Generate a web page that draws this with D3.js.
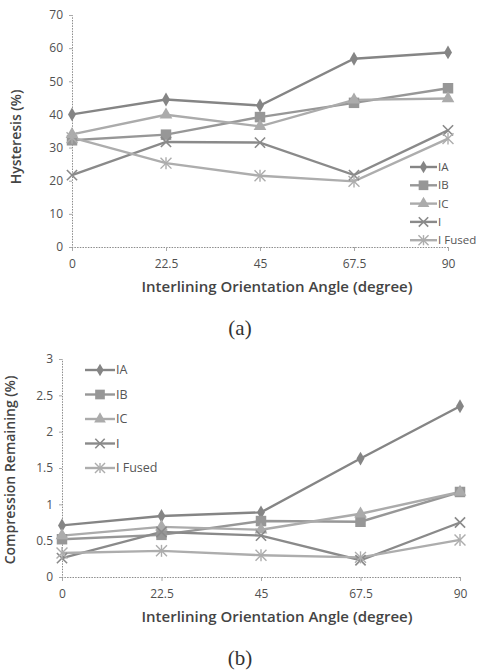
<!DOCTYPE html>
<html><head><meta charset="utf-8">
<script src="https://cdn.jsdelivr.net/npm/d3@7"></script>
<style>body{margin:0;background:#fff}svg{display:block}</style>
</head><body>
<svg id="c" width="480" height="670"></svg>
<script>
const angles = [0, 22.5, 45, 67.5, 90];
const angleLabels = ["0", "22.5", "45", "67.5", "90"];
const seriesNames = ["IA", "IB", "IC", "I", "I Fused"];

// (a) Hysteresis (%)
const hystIA = [40, 44.5, 42.7, 56.8, 58.7];
const hystIB = [32.2, 33.9, 39.2, 43.5, 47.9];
const hystIC = [34, 39.9, 36.4, 44.4, 44.8];
const hystI = [21.7, 31.7, 31.5, 21.7, 35.2];
const hystIFused = [33, 25.3, 21.5, 19.8, 32.7];
const hystTicks = [0, 10, 20, 30, 40, 50, 60, 70];

// (b) Compression Remaining (%)
const compIA = [0.71, 0.84, 0.89, 1.63, 2.35];
const compIB = [0.52, 0.58, 0.77, 0.76, 1.17];
const compIC = [0.57, 0.69, 0.65, 0.87, 1.17];
const compI = [0.26, 0.62, 0.57, 0.23, 0.75];
const compIFused = [0.33, 0.36, 0.30, 0.27, 0.51];
const compTicks = [0, 0.5, 1, 1.5, 2, 2.5, 3];

const colors = ["#858585", "#979797", "#ababab", "#8a8a8a", "#adadad"];
const shapes = ["diamond", "square", "triangle", "x", "asterisk"];

const svg = d3.select("#c");
const font = "'Open Sans', 'DejaVu Sans', sans-serif";

function marker(g, shape, x, y, color, big) {
  const s = big ? 1 : 0.85;
  if (shape === "diamond") {
    g.append("path").attr("d", d3.symbol(d3.symbolDiamond, 55 * s)()).attr("transform", `translate(${x},${y})`).attr("fill", color);
  } else if (shape === "square") {
    g.append("path").attr("d", d3.symbol(d3.symbolSquare, 110 * s)()).attr("transform", `translate(${x},${y})`).attr("fill", color);
  } else if (shape === "triangle") {
    g.append("path").attr("d", d3.symbol(d3.symbolTriangle, 70 * s)()).attr("transform", `translate(${x},${y})`).attr("fill", color);
  } else if (shape === "x") {
    g.append("path").attr("d", d3.symbol(d3.symbolTimes, 70 * s)()).attr("transform", `translate(${x},${y})`).attr("fill", "none").attr("stroke", color).attr("stroke-width", 1.6);
  } else {
    g.append("path").attr("d", d3.symbol(d3.symbolTimes, 80 * s)()).attr("transform", `translate(${x},${y})`).attr("fill", "none").attr("stroke", color).attr("stroke-width", 1.4);
    g.append("line").attr("x1", x).attr("x2", x).attr("y1", y - 6 * s).attr("y2", y + 6 * s).attr("stroke", color).attr("stroke-width", 1.4);
  }
}

function drawChart(cfg) {
  const g = svg.append("g");
  const x = d3.scaleLinear().domain([0, 90]).range([cfg.x0, cfg.x1]);
  const y = d3.scaleLinear().domain([0, cfg.ymax]).range([cfg.y0, cfg.y1]);

  const xAxis = d3.axisBottom(x).tickValues(angles).tickFormat((d, i) => angleLabels[i]).tickSize(4).tickPadding(8);
  const xg = g.append("g").attr("transform", `translate(0,${cfg.y0})`).call(xAxis);
  const yAxis = d3.axisLeft(y).tickValues(cfg.ticks).tickFormat(d => String(d)).tickSize(3).tickPadding(6);
  const yg = g.append("g").attr("transform", `translate(${cfg.x0},0)`).call(yAxis);
  [xg, yg].forEach(a => {
    a.select(".domain").attr("stroke", "#8c8c8c").attr("stroke-dasharray", "1.5,1.2").attr("stroke-width", 1);
    a.selectAll(".tick line").attr("stroke", "#aaa");
    a.selectAll("text").attr("fill", "#505050").style("font-family", font).style("font-size", "12px");
  });

  const line = d3.line().x((d, i) => x(angles[i])).y(d => y(d));
  cfg.series.forEach((vals, si) => {
    g.append("path").datum(vals).attr("d", line).attr("fill", "none")
      .attr("stroke", colors[si]).attr("stroke-width", 2.4);
  });
  cfg.series.forEach((vals, si) => {
    vals.forEach((v, i) => marker(g, shapes[si], x(angles[i]), y(v), colors[si], true));
  });

  g.append("text").attr("x", cfg.xtX).attr("y", cfg.xtY).attr("text-anchor", "middle")
    .style("font-family", font).style("font-size", "15px").style("font-weight", 600).attr("fill", "#444")
    .text("Interlining Orientation Angle (degree)");
  g.append("text").attr("transform", `translate(${cfg.ytX},${cfg.ytY}) rotate(-90)`).attr("text-anchor", "middle")
    .style("font-family", font).style("font-size", "14px").style("font-weight", 600).attr("fill", "#444")
    .text(cfg.ytitle);

  seriesNames.forEach((n, i) => {
    const ly = cfg.legY + i * cfg.legStep;
    g.append("line").attr("x1", cfg.legX).attr("x2", cfg.legX + cfg.legW).attr("y1", ly).attr("y2", ly)
      .attr("stroke", colors[i]).attr("stroke-width", 2.4);
    marker(g, shapes[i], cfg.legX + cfg.legW / 2, ly, colors[i], false);
    g.append("text").attr("x", cfg.legX + cfg.legW + 1).attr("y", ly).attr("dy", "0.35em")
      .style("font-family", font).style("font-size", cfg.legFont).attr("fill", "#555").text(n);
  });

  svg.append("text").attr("x", 240).attr("y", cfg.capY).attr("text-anchor", "middle")
    .style("font-family", "'Liberation Serif', 'DejaVu Serif', serif").style("font-size", "21px").attr("fill", "#333")
    .text(cfg.caption);
}

drawChart({
  x0: 72, x1: 448, y0: 247, y1: 15, ymax: 70, ticks: hystTicks,
  series: [hystIA, hystIB, hystIC, hystI, hystIFused],
  ytitle: "Hysteresis (%)", ytX: 21, ytY: 137, xtX: 277, xtY: 292,
  legX: 410, legW: 27, legY: 167, legStep: 18.3, legFont: "11.5px", caption: "(a)", capY: 335
});
drawChart({
  x0: 62, x1: 460, y0: 577, y1: 359, ymax: 3, ticks: compTicks,
  series: [compIA, compIB, compIC, compI, compIFused],
  ytitle: "Compression Remaining (%)", ytX: 15, ytY: 470, xtX: 277, xtY: 622,
  legX: 85, legW: 30, legY: 370, legStep: 24.5, legFont: "12.5px", caption: "(b)", capY: 665
});
</script>
</body></html>
